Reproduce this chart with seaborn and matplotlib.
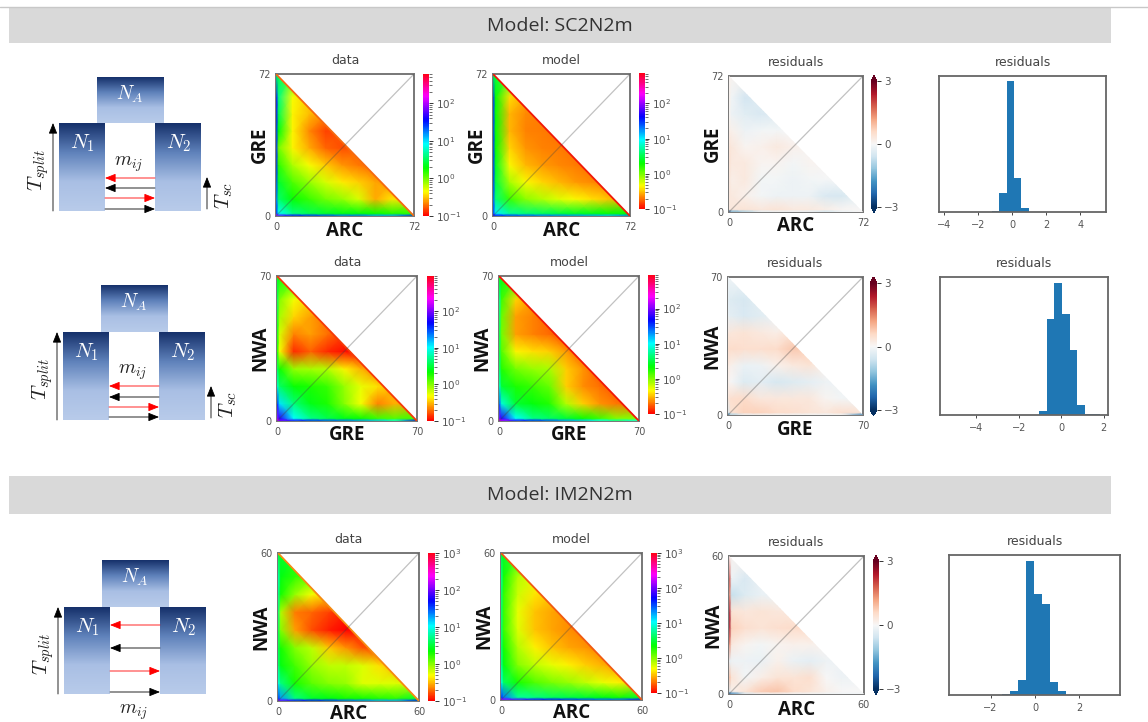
import numpy as np
import matplotlib
matplotlib.use('Agg')
import matplotlib.pyplot as plt
import seaborn as sns
from matplotlib.colors import LogNorm, LinearSegmentedColormap
from matplotlib.patches import Polygon, Rectangle

W, H = 1148, 722

#spectrum values, rows go top to bottom, each row stops at the diagonal
node_pos = [0, .02, .12, .24, .36, .48, .6, .72, .84, 1]

#SC2N2m, ARC vs GRE
sc1_data = [[3],
            [40, 4, .45, .32],
            [40, 3, .42, .3, .23],
            [30, 2, .42, .22, .15, .17],
            [30, 1, .42, .27, .18, .16, .19],
            [30, 1.5, .7, .45, .32, .24, .2, .19],
            [25, 2.5, 1.2, .8, .55, .4, .33, .26, .22],
            [20, 3.5, 1.9, 1.4, 1, .8, .55, .27, .38, .32],
            [30, 8, 4, 3, 2.5, 2.2, 2, 1.8, 1.6, 1.5],
            [150, 60, 40, 30, 25, 20, 20, 15, 15, 30]]
sc1_model = [[3],
             [30, 2, .38, .26],
             [30, 2, .3, .23, .21],
             [30, 2, .3, .22, .21, .2],
             [30, 2, .36, .24, .22, .21, .2],
             [30, 2.5, .46, .3, .25, .23, .21, .2],
             [30, 3, .75, .45, .35, .3, .25, .23, .21],
             [25, 4, 1.5, .9, .7, .55, .45, .38, .32, .25],
             [30, 10, 5, 4, 3.5, 3, 2.6, 2.4, 2, 2],
             [60, 40, 30, 25, 22, 20, 18, 16, 14, 20]]
sc1_resid = [[.1],
             [.15, -.1, -.55, -.35],
             [.05, -.15, -.35, -.45, -.35],
             [.2, .15, -.15, -.08, -.08, 0],
             [.4, .35, .08, .15, .3, .15, .05],
             [.45, .3, .3, .08, .08, -.08, .08, .05],
             [.35, .2, .3, -.08, -.08, -.15, -.08, -.03, -.05],
             [.35, .3, .15, -.08, -.15, -.15, -.15, -.45, -.5, -.1],
             [.3, .35, .4, .35, .4, .3, .3, .2, .05, 0],
             [-2.5, -1.5, -1, -.3, -.2, -.2, -.3, -.6, -.2, 0]]
sc1_edges = [-1.19, -.76, -.33, .10, .53, .96]
sc1_counts = [3, 57, 393, 102, 12]

#SC2N2m, GRE vs NWA
sc2_data = [[2.5],
            [4, 1, .5, .35],
            [3, .8, .36, .27, .2],
            [2.5, .6, .22, .27, .2, .14],
            [2, .5, .13, .18, .13, .11, .12],
            [4, 2, .9, .8, .75, .45, .3, .2],
            [8, 4, 2.2, 1.9, 1.6, .9, .55, .4, .27],
            [40, 12, 4.5, 2.5, 1.9, 1, .5, .22, .3, .25],
            [120, 60, 10, 5, 3.5, 2.5, 2, 1.5, 1.3, 1.5],
            [200, 100, 60, 40, 30, 25, 20, 15, 8, 50]]
sc2_model = [[2.5],
             [6, 1.5, .36, .24],
             [5, 1.2, .27, .22, .18],
             [4, 1.1, .27, .22, .19, .15],
             [4, 1.3, .45, .4, .35, .26, .17],
             [5, 1.8, 1.1, .9, .8, .35, .25, .17],
             [8, 3, 1.9, 1.6, 1.2, .35, .24, .2, .17],
             [30, 8, 3, 2.3, 1.8, .75, .35, .25, .21, .18],
             [100, 60, 10, 5, 4, 3, 2, 1.5, 1, 1],
             [300, 150, 60, 40, 30, 20, 15, 10, 6, 10]]
sc2_resid = [[-.1],
             [-.3, -.4, -.5, -.3],
             [-.2, -.3, -.45, -.35, -.2],
             [.3, .35, .4, .3, .2, .4],
             [.55, .55, .5, .5, .55, .8, .7],
             [.3, .15, -.2, -.15, .15, .3, .4, .15],
             [.15, 0, -.4, -.3, -.5, -.4, -.3, -.15, -.15],
             [.4, .5, .55, .35, .35, .35, .35, .08, -.08, -.15],
             [-.5, .4, .7, .7, .55, .5, .4, .35, .5, .4],
             [-2, -1, -.2, -.1, -.1, -.1, -.1, -.1, -.1, -2]]
sc2_edges = [-1.04, -.68, -.32, .04, .40, .76, 1.12, 1.48, 1.84]
sc2_counts = [12, 290, 396, 303, 195, 30, 4, 4]

#IM2N2m, ARC vs NWA
im_data = [[3],
           [8, 2.5, 1.7, 1.2],
           [6, 2, .9, .5, .33],
           [5, .8, .22, .19, .15, .12],
           [4, 1, .27, .16, .12, .1, .13],
           [4, 2, 1, .7, .35, .25, .17, .16],
           [5, 2.5, 1.5, .9, .7, .7, .6, .4, .3],
           [10, 5, 2, 1.3, 1, .9, .6, .6, .6, .4],
           [40, 20, 5, 3, 2.5, 2, 2, 1.8, 1.7, 3],
           [150, 100, 60, 50, 40, 30, 25, 20, 20, 50]]
im_model = [[3],
            [6, 2, .75, .55],
            [5, 1.7, .65, .42, .33],
            [5, 1.6, .55, .33, .28, .24],
            [5, 1.6, .6, .33, .28, .24, .22],
            [5, 2, .75, .45, .33, .28, .25, .22],
            [6, 2.5, 1, .7, .55, .45, .36, .3, .25],
            [10, 4, 2, 1.4, 1.1, .9, .7, .55, .45, .32],
            [40, 25, 6, 5, 4, 3.5, 3, 2.5, 2, 3],
            [200, 120, 80, 60, 50, 40, 35, 30, 30, 60]]
im_resid = [[.1],
            [2, -.15, -.45, -.2],
            [1.5, -.7, -.4, -.2, -.15],
            [2.5, .4, .35, .4, .35, .3],
            [2.5, .7, .5, .4, .5, .55, .55],
            [1.5, .3, .08, -.08, .08, .15, .15, .08],
            [-.3, -.15, -.15, -.2, .15, -.2, -.3, -.15, -.15],
            [1, .4, -.08, .2, .4, .4, .5, 0, -.15, -.08],
            [-.5, .15, .4, .75, .85, .55, .4, .15, 0, 0],
            [-2.5, -2, -.5, -.1, -.1, -.1, -.1, -.1, -.1, -.1]]
im_edges = [-1.84, -1.48, -1.12, -.76, -.40, -.04, .32, .68, 1.04, 1.40]
im_counts = [1, 2, 13, 45, 400, 302, 272, 38, 12]

sns.set_theme(style='white')
plt.rcParams['font.family'] = ['DejaVu Sans']

GREY = '#555555'
EDGE = '#777777'

fig = plt.figure(figsize=(W / 100, H / 100), dpi=100)

#background layer in pixel coordinates for the bands and the diagrams
bg = fig.add_axes([0, 0, 1, 1], zorder=-1)
bg.set_axis_off()
block_cmap = LinearSegmentedColormap.from_list('block', ['#16316b', '#5f82bb', '#a9bfe4', '#b8cbea'])
gradient = np.linspace(0, 1, 100).reshape(-1, 1)


def rect_axes(x0, x1, y0, y1):
    return fig.add_axes([x0 / W, 1 - y1 / H, (x1 - x0) / W, (y1 - y0) / H])


def block(x0, x1, y0, y1):
    bg.imshow(gradient, cmap=block_cmap, extent=(x0, x1, y1, y0), aspect='auto', vmin=0, vmax=1)


def arrow(x0, y0, x1, y1, color):
    bg.annotate('', xy=(x1, y1), xytext=(x0, y0),
                arrowprops=dict(arrowstyle='-|>,head_length=6.5,head_width=2.6', mutation_scale=1,
                                color=color, lw=0.6, shrinkA=0, shrinkB=0))


def maths(x, y, s, color='#222222', size=14, rotation=0):
    bg.text(x, y, s, color=color, fontsize=size, rotation=rotation, ha='center', va='center',
            math_fontfamily='cm')


def diagram(dx, top, mid, bot, rows, tsc=None):
    block(97 + dx, 164 + dx, top, mid)
    block(59 + dx, 105 + dx, mid, bot)
    block(155 + dx, 201 + dx, mid, bot)
    maths(130 + dx, top + 17, '$N_A$', 'white', 14)
    maths(82 + dx, mid + 20, '$N_1$', 'white', 15)
    maths(179 + dx, mid + 20, '$N_2$', 'white', 15)
    arrow(53 + dx, bot, 53 + dx, mid, 'black')
    maths(39 + dx, mid + 47, '$T_{split}$', size=15, rotation=90)
    colors = ['red', 'black', 'red', 'black']
    for i, y in enumerate(rows):
        if i < 2:
            arrow(155 + dx, y, 105 + dx, y, colors[i])
        else:
            arrow(105 + dx, y, 155 + dx, y, colors[i])
    if tsc is not None:
        arrow(207 + dx, bot - 2, 207 + dx, bot - 34, 'black')
        maths(224 + dx, bot - 16, '$T_{sc}$', size=15, rotation=90)


def pad_rows(rows):
    #stretch each row to the full grid so the colours stay level past the diagonal
    n = len(node_pos)
    out = [list(r) + [r[-1]] * (n - len(r)) for r in rows]
    return np.array(out[::-1], dtype=float)


def fwd(v):
    return np.interp(v, np.arange(len(node_pos)), node_pos)


def inv(v):
    return np.interp(v, node_pos, np.arange(len(node_pos)))


def sfs_panel(rows, box, cbox, title, xlab, ylab, top, vmax=None, rim=None, extend=None, lab=4.5):
    ax = rect_axes(*box)
    cax = rect_axes(*cbox)
    grid = pad_rows(rows)
    if vmax is None:
        sns.heatmap(grid, ax=ax, cbar_ax=cax, cmap='RdBu_r', vmin=-3, vmax=3, shading='gouraud',
                    cbar_kws={'extend': 'both', 'ticks': [-3, 0, 3]},
                    xticklabels=False, yticklabels=False)
    else:
        cmap = plt.get_cmap('hsv').with_extremes(under='white')
        kw = {'extend': extend} if extend else {}
        sns.heatmap(grid, ax=ax, cbar_ax=cax, cmap=cmap, norm=LogNorm(vmin=.1, vmax=vmax),
                    shading='gouraud', cbar_kws=kw, xticklabels=False, yticklabels=False)
    mesh = ax.collections[0]
    ax.set_xscale('function', functions=(fwd, inv))
    ax.set_yscale('function', functions=(fwd, inv))
    last = len(node_pos) - 1
    ax.set_xlim(0, last)
    ax.set_ylim(0, last)
    tri = Polygon([(0, 0), (1, 0), (0, 1)], transform=ax.transAxes)
    mesh.set_clip_path(tri)
    mesh.set_zorder(3)
    if rim:
        ax.plot([0, 1], [1, 0], transform=ax.transAxes, color=rim, lw=1.3, solid_capstyle='butt', zorder=4)
    ax.plot([0, 1], [0, 1], transform=ax.transAxes, color='#444444', alpha=.33, lw=.9, zorder=4)
    ax.set_xticks([0, last], ['0', top])
    ax.set_yticks([0, last], ['0', top])
    ax.xaxis.set_minor_locator(plt.NullLocator())
    ax.yaxis.set_minor_locator(plt.NullLocator())
    ax.tick_params(length=0, labelsize=7, labelcolor=GREY, pad=4, bottom=False, left=False)
    plt.setp(ax.get_yticklabels(), rotation=0)
    for s in ax.spines.values():
        s.set_visible(True)
        s.set_color(EDGE)
        s.set_linewidth(1.4)
    ax.set_title(title, fontsize=9, color='#444444', pad=7)
    ax.set_xlabel(xlab, fontsize=13.5, fontweight='bold', family='Open Sans', color='#111111')
    ax.set_ylabel(ylab, fontsize=13.5, fontweight='bold', family='Open Sans', color='#111111')
    ax.xaxis.set_label_coords(.5, -lab / (box[3] - box[2]))
    ax.yaxis.set_label_coords(-.045, .5)
    cax.tick_params(which='both', labelsize=7.5, labelcolor=GREY, color='#333333', pad=2, right=True)
    cax.tick_params(which='major', length=3, width=.7)
    cax.tick_params(which='minor', length=2, width=.5)
    return ax


def hist_panel(edges, counts, box, ymax, xlim, ticks):
    ax = rect_axes(*box)
    mids = [(a + b) / 2 for a, b in zip(edges[:-1], edges[1:])]
    sns.histplot(x=mids, weights=counts, bins=edges, ax=ax, color='#1f77b4', alpha=1, linewidth=0)
    ax.set_xlim(*xlim)
    ax.set_ylim(0, ymax)
    ax.set_xticks(ticks)
    ax.set_yticks([])
    ax.set_ylabel('')
    ax.tick_params(axis='x', bottom=True, length=2.5, width=.7, color='#444444',
                   labelsize=7, labelcolor=GREY, pad=3)
    for s in ax.spines.values():
        s.set_visible(True)
        s.set_color('#666666')
        s.set_linewidth(1.3)
    ax.set_title('residuals', fontsize=9, color='#444444', pad=7)


#header bands
bg.add_patch(Rectangle((9, 7), 1102, 36, color='#d9d9d9', lw=0))
bg.add_patch(Rectangle((9, 476), 1102, 38, color='#d9d9d9', lw=0))
bg.plot([0, W], [6.5, 6.5], color='#c8c8c8', lw=1)
bg.text(560, 26, 'Model: SC2N2m', fontsize=14, family='Open Sans', color='#333333', ha='center', va='center')
bg.text(560, 495, 'Model: IM2N2m', fontsize=14, family='Open Sans', color='#333333', ha='center', va='center')

#diagrams
diagram(0, 77, 123, 211, [178, 188, 198, 209], tsc=True)
maths(129, 164, '$m_{ij}$')
diagram(4, 285, 332, 420, [386, 397, 407, 417], tsc=True)
maths(133, 372, '$m_{ij}$')
diagram(5, 560, 607, 694, [625, 648, 671, 692])
maths(134, 712, '$m_{ij}$')
bg.set_xlim(0, W)
bg.set_ylim(H, 0)

#first row
sfs_panel(sc1_data, (276, 414, 74, 216), (423, 429, 74, 216), 'data', 'ARC', 'GRE', '72', vmax=600, rim='#f56a10')
sfs_panel(sc1_model, (493, 630, 74, 216), (639, 645, 73, 216), 'model', 'ARC', 'GRE', '72', vmax=725, rim='#f01808', extend='min')
sfs_panel(sc1_resid, (729, 863, 76, 212), (871, 877, 75, 213), 'residuals', 'ARC', 'GRE', '72', lab=3.5)
hist_panel(sc1_edges, sc1_counts, (939, 1106, 76, 212), 409, (-4.3, 5.5), [-4, -2, 0, 2, 4])

#second row
sfs_panel(sc2_data, (277, 417, 276, 421), (427, 434, 276, 421), 'data', 'GRE', 'NWA', '70', vmax=900, rim='#f53a08')
sfs_panel(sc2_model, (499, 639, 276, 421), (648, 655, 275, 421), 'model', 'GRE', 'NWA', '70', vmax=900, rim='#f01808', extend='min')
sfs_panel(sc2_resid, (728, 863, 277, 415), (870, 877, 277, 416), 'residuals', 'GRE', 'NWA', '70', lab=5.5)
hist_panel(sc2_edges, sc2_counts, (940, 1108, 277, 415), 415, (-5.7, 2.2), [-4, -2, 0, 2])

#third row
sfs_panel(im_data, (278, 419, 553, 701), (428, 435, 553, 701), 'data', 'ARC', 'NWA', '60', vmax=1000, rim='#f58a10', lab=3)
sfs_panel(im_model, (501, 642, 553, 700), (651, 657, 553, 700), 'model', 'ARC', 'NWA', '60', vmax=1000, rim='#f05a10', extend='min', lab=3)
sfs_panel(im_resid, (729, 864, 556, 694), (873, 879, 555, 695), 'residuals', 'ARC', 'NWA', '60', lab=6)
hist_panel(im_edges, im_counts, (949, 1120, 555, 695), 417, (-3.87, 3.83), [-2, 0, 2])

plt.savefig('out.png', dpi=100)
